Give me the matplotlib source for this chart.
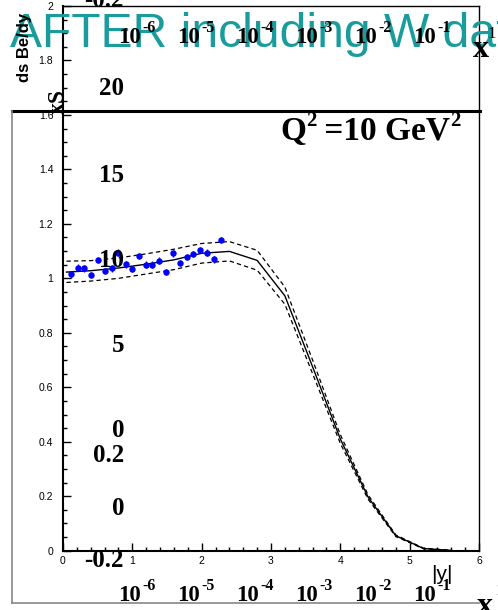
import matplotlib
matplotlib.use('Agg')
import matplotlib.pyplot as plt
from matplotlib.lines import Line2D
from matplotlib.ticker import MultipleLocator

W, H = 498, 610

# Theory curve (central value and band) versus |y|
curve_y = [0.05, 0.4, 0.8, 1.2, 1.6, 2.0, 2.4, 2.8, 3.2, 3.6, 4.0, 4.4, 4.8, 5.2, 5.6]
curve_c = [1.023, 1.028, 1.038, 1.052, 1.068, 1.092, 1.099, 1.066, 0.936, 0.675, 0.41, 0.197, 0.055, 0.008, 0.001]
curve_hi = [1.063, 1.065, 1.075, 1.090, 1.107, 1.128, 1.135, 1.103, 0.968, 0.700, 0.426, 0.205, 0.058, 0.009, 0.001]
curve_lo = [0.985, 0.990, 1.000, 1.016, 1.032, 1.056, 1.064, 1.030, 0.905, 0.650, 0.394, 0.189, 0.052, 0.007, 0.001]

# Pseudo-data points
data_y = [0.115, 0.21, 0.31, 0.40, 0.51, 0.61, 0.70, 0.80, 0.905, 1.00, 1.097, 1.19,
          1.29, 1.385, 1.49, 1.58, 1.69, 1.785, 1.88, 1.98, 2.08, 2.18, 2.28]
data_v = [1.015, 1.039, 1.037, 1.012, 1.067, 1.027, 1.037, 1.094, 1.051, 1.034, 1.082, 1.050,
          1.050, 1.065, 1.024, 1.092, 1.057, 1.079, 1.089, 1.104, 1.094, 1.070, 1.141]
data_err = [0.012] * len(data_y)

# Labels of the overlaid x-grid panel
x_exps = ['-6', '-5', '-4', '-3', '-2', '-1']
side_labels = ['-0.2', '20', '15', '10', '5', '0', '0.2', '0', '-0.2']

fig = plt.figure(figsize=(W / 100, H / 100), dpi=100)


def px(x, y):
    return x / W, 1 - y / H


def ptext(x, y, s, **kw):
    return fig.text(*px(x, y), s, **kw)


# ---- main ROOT-style panel ----
ax = fig.add_axes([63 / W, 1 - 550.7 / H, (479 - 63) / W, (550.7 - 6) / H])
ax.plot(curve_y, curve_c, color='black', lw=1.0)
ax.plot(curve_y, curve_hi, color='black', lw=0.9, ls=(0, (3.5, 2.5)))
ax.plot(curve_y, curve_lo, color='black', lw=0.9, ls=(0, (3.5, 2.5)))
ax.errorbar(data_y, data_v, yerr=data_err, fmt='o', color='blue', ms=3.6,
            elinewidth=1.0, capsize=0)
ax.set_xlim(0, 6)
ax.set_ylim(0, 2)
ax.xaxis.set_major_locator(MultipleLocator(1))
ax.xaxis.set_minor_locator(MultipleLocator(0.2))
ax.yaxis.set_major_locator(MultipleLocator(0.2))
ax.yaxis.set_minor_locator(MultipleLocator(0.05))
ax.tick_params(which='both', direction='in', top=False, right=False, width=1,
               labelsize=7.5, labelfontfamily='Liberation Sans')
ax.tick_params(which='major', length=6)
ax.tick_params(which='minor', length=3)
ax.tick_params(axis='y', pad=7)
ax.tick_params(axis='x', pad=4)
ax.yaxis.set_major_formatter(plt.FuncFormatter(lambda v, p: f'{v:g}'))
ax.xaxis.set_major_formatter(plt.FuncFormatter(lambda v, p: f'{v:g}'))
for s in ['left', 'bottom']:
    ax.spines[s].set_linewidth(1.5)
for s in ['top', 'right']:
    ax.spines[s].set_linewidth(1.0)

ptext(25, 13, 'ds Be/dy', rotation=90, ha='center', va='top', fontsize=12,
      fontweight='bold', family='Liberation Sans')
ptext(453, 580, '|y|', ha='right', va='baseline', fontsize=15,
      family='Liberation Sans')

# ---- frame of the second panel ----
fig.add_artist(Line2D([12 / W, 480 / W], [1 - 111 / H] * 2, color='black', lw=2.2))
fig.add_artist(Line2D([12 / W, 12 / W], [1 - 111 / H, 1 - 603 / H], color='#888888', lw=1.2))
fig.add_artist(Line2D([12 / W, 479 / W], [1 - 603 / H] * 2, color='#888888', lw=1.2))

serif_b = dict(family='Liberation Serif', fontweight='bold')

# side labels of the second panel
side_base = [7, 95, 182, 267, 352, 437, 462, 515, 567]
for lab, yb in zip(side_labels, side_base):
    ptext(124, yb, lab, ha='right', va='baseline', fontsize=18, **serif_b)

# x tick labels, top and bottom rows
for i, e in enumerate(x_exps):
    x0 = 118 + 59 * i
    for yb, ye in [(43, 32), (601, 590)]:
        ptext(x0, yb, '10', ha='left', va='baseline', fontsize=16.5, **serif_b)
        ptext(x0 + 24, ye, e, ha='left', va='baseline', fontsize=11.5, **serif_b)

ptext(487, 38, '1', ha='left', va='baseline', fontsize=12, family='Liberation Serif')
ptext(495, 595, '1', ha='left', va='baseline', fontsize=12, family='Liberation Serif')
ptext(473, 57, 'x', ha='left', va='baseline', fontsize=23, **serif_b)
ptext(477, 614, 'x', ha='left', va='baseline', fontsize=23, **serif_b)
ptext(58, 102, 'xS', rotation=90, ha='center', va='center', fontsize=17, **serif_b)

# Q2 label, pieces chained left to right
renderer = fig.canvas.get_renderer()
xcur = 280
for s, size, yb in [('Q', 24, 140), ('2', 15, 126), (' =10 GeV', 24, 140), ('2', 15, 126)]:
    t = ptext(xcur, yb, s, ha='left', va='baseline', fontsize=size, **serif_b)
    xcur += t.get_window_extent(renderer).width

# title overlay, kept under the black labels
ptext(10, 47, 'AFTER including W data', ha='left', va='baseline', fontsize=34.6,
      family='Liberation Sans', color='#1a9c9c', zorder=1)

fig.savefig('out.png', dpi=100)
